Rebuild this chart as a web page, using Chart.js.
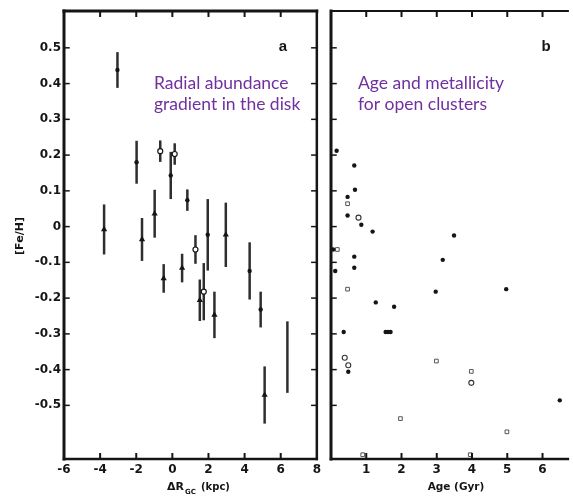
<!DOCTYPE html>
<html>
<head>
<meta charset="utf-8">
<script src="https://cdn.jsdelivr.net/npm/chart.js@4.4.1/dist/chart.umd.min.js"></script>
<style>
  html, body { margin: 0; padding: 0; background: #fff; }
  #wrap { position: relative; width: 573px; height: 497px; overflow: hidden; }
  #chartA { position: absolute; left: 0; top: 0; }
  #chartB { position: absolute; left: 325px; top: 0; }
</style>
</head>
<body>
<div id="wrap">
  <canvas id="chartA" width="325" height="497"></canvas>
  <canvas id="chartB" width="248" height="497"></canvas>
</div>
<script>
// panel a: [Fe/H] vs galactocentric distance offset
const dRgc   = [-3.04, -1.98, -0.67, 0.13, -0.09, 0.83, -3.78, -1.68, -0.98, 1.28, 1.96, 2.96, -0.48, 0.54, 1.52, 1.74, 2.33, 4.28, 4.89, 5.11, 6.37];
const feA    = [0.438, 0.18, 0.211, 0.203, 0.143, 0.074, -0.008, -0.036, 0.036, -0.064, -0.023, -0.023, -0.145, -0.116, -0.206, -0.182, -0.247, -0.124, -0.232, -0.471, -0.365];
const feAErr = [0.05, 0.06, 0.03, 0.03, 0.066, 0.03, 0.07, 0.06, 0.067, 0.04, 0.1, 0.09, 0.04, 0.04, 0.058, 0.08, 0.065, 0.08, 0.05, 0.08, 0.1];
// c = filled circle, o = open circle, t = triangle, n = bar only
const markA  = ['c', 'c', 'o', 'o', 'c', 'c', 't', 't', 't', 'o', 'c', 't', 't', 't', 't', 'o', 't', 'c', 'c', 't', 'n'];

// panel b: [Fe/H] vs age for open clusters
const ageFilled = [0.16, 0.66, 0.68, 0.47, 0.47, 0.86, 1.18, 3.49, 0.06, 0.66, 0.12, 0.66, 3.17, 2.97, 4.97, 1.27, 1.79, 0.36, 1.55, 1.62, 1.69, 0.49, 6.49];
const feFilled  = [0.212, 0.171, 0.103, 0.083, 0.031, 0.005, -0.014, -0.025, -0.064, -0.084, -0.124, -0.115, -0.093, -0.182, -0.175, -0.212, -0.224, -0.295, -0.295, -0.295, -0.295, -0.406, -0.486];
const ageSquare = [0.47, 0.18, 0.47, 2.99, 3.98, 1.97, 4.99, 0.9, 3.95];
const feSquare  = [0.064, -0.064, -0.175, -0.376, -0.405, -0.537, -0.574, -0.638, -0.638];
const ageOpen   = [0.78, 0.39, 0.49, 3.98];
const feOpen    = [0.025, -0.367, -0.388, -0.437];

const yTicks   = [0.5, 0.4, 0.3, 0.2, 0.1, 0, -0.1, -0.2, -0.3, -0.4, -0.5];
const xTicksA  = [-6, -4, -2, 0, 2, 4, 6, 8];
const xTicksB  = [1, 2, 3, 4, 5, 6];

const INK = '#151515';
const PURPLE = '#7030a0';
const tickFont = { family: 'DejaVu Sans', weight: 'bold', size: 12 };

function pts(xs, ys) {
  return xs.map((v, i) => ({ x: v, y: ys[i] }));
}

// axis frame with inward tick marks
function framePlugin(sides, xMarks) {
  return {
    id: 'frame',
    afterDraw(chart) {
      const { ctx, chartArea: { left, right, top, bottom }, scales: { x, y } } = chart;
      ctx.save();
      ctx.strokeStyle = INK;
      ctx.lineCap = 'square';
      const line = (x1, y1, x2, y2, w) => {
        ctx.lineWidth = w;
        ctx.beginPath();
        ctx.moveTo(x1, y1);
        ctx.lineTo(x2, y2);
        ctx.stroke();
      };
      if (sides.left) line(left, top, left, bottom, sides.left);
      if (sides.top) line(left, top, right, top, sides.top);
      if (sides.right) line(right, top, right, bottom, sides.right);
      if (sides.bottom) line(left, bottom, right, bottom, sides.bottom);
      yTicks.forEach((v) => {
        const py = y.getPixelForValue(v);
        if (sides.left) line(left, py, left + 5, py, 1.5);
        if (sides.right) line(right, py, right - 5, py, 1.5);
      });
      xMarks.forEach((v) => {
        const px = x.getPixelForValue(v);
        if (sides.top) line(px, top, px, top + 5, 2);
        if (sides.bottom) line(px, bottom, px, bottom - 5, 2);
      });
      ctx.restore();
    },
  };
}

// vertical error bars for panel a
const errorBars = {
  id: 'errorBars',
  beforeDatasetsDraw(chart) {
    const { ctx, scales: { x, y } } = chart;
    ctx.save();
    ctx.strokeStyle = '#2e2e2e';
    ctx.lineWidth = 2.5;
    dRgc.forEach((v, i) => {
      const px = x.getPixelForValue(v);
      ctx.beginPath();
      ctx.moveTo(px, y.getPixelForValue(feA[i] + feAErr[i]));
      ctx.lineTo(px, y.getPixelForValue(feA[i] - feAErr[i]));
      ctx.stroke();
    });
    ctx.restore();
  },
};

function labelsPlugin(draw) {
  return { id: 'labels', afterDraw(chart) { chart.ctx.save(); draw(chart.ctx); chart.ctx.restore(); } };
}

const annotA = labelsPlugin((ctx) => {
  ctx.fillStyle = INK;
  ctx.font = 'bold 15px "Liberation Sans"';
  ctx.textAlign = 'center';
  ctx.textBaseline = 'middle';
  ctx.fillText('a', 283, 47);

  ctx.fillStyle = PURPLE;
  ctx.font = '17.5px Lato';
  ctx.textAlign = 'left';
  ctx.fillText('Radial abundance', 154, 83);
  ctx.fillText('gradient in the disk', 154, 104);

  // axis titles
  ctx.fillStyle = INK;
  ctx.font = 'bold 11px "DejaVu Sans"';
  ctx.save();
  ctx.translate(20, 236);
  ctx.rotate(-Math.PI / 2);
  ctx.textAlign = 'center';
  ctx.fillText('[Fe/H]', 0, 0);
  ctx.restore();

  ctx.textAlign = 'left';
  ctx.fillText('\u0394R', 167, 487);
  const w = ctx.measureText('\u0394R').width;
  ctx.font = 'bold 7px "DejaVu Sans"';
  ctx.fillText('GC', 167 + w + 1, 492);
  ctx.font = 'bold 10px "DejaVu Sans"';
  ctx.fillText('(kpc)', 201, 487);
});

const annotB = labelsPlugin((ctx) => {
  ctx.fillStyle = INK;
  ctx.font = 'bold 15px "Liberation Sans"';
  ctx.textAlign = 'center';
  ctx.textBaseline = 'middle';
  ctx.fillText('b', 546 - 325, 47);

  ctx.fillStyle = PURPLE;
  ctx.font = '17.5px Lato';
  ctx.textAlign = 'left';
  ctx.fillText('Age and metallicity', 358 - 325, 83);
  ctx.fillText('for open clusters', 358 - 325, 104);

  ctx.fillStyle = INK;
  ctx.font = 'bold 10.5px "DejaVu Sans"';
  ctx.textAlign = 'center';
  ctx.fillText('Age (Gyr)', 456 - 325, 487);
});

const yScale = (show) => ({
  type: 'linear',
  display: show,
  min: -0.65,
  max: 0.603,
  afterBuildTicks: (s) => { s.ticks = yTicks.map((v) => ({ value: v })); },
  afterFit: (s) => { s.width = show ? 64 : 0; },
  grid: { display: false, drawTicks: false },
  border: { display: false },
  ticks: {
    color: INK,
    font: tickFont,
    padding: 3,
    callback: (v) => (v === 0 ? '0' : v.toFixed(1)),
  },
});

const xScale = (min, max, tickVals) => ({
  type: 'linear',
  min,
  max,
  afterBuildTicks: (s) => { s.ticks = tickVals.map((v) => ({ value: v })); },
  afterFit: (s) => { s.height = 38; },
  grid: { display: false, drawTicks: false },
  border: { display: false },
  ticks: { color: INK, font: tickFont, padding: 4, maxRotation: 0, autoSkip: false },
});

const baseOptions = {
  animation: false,
  responsive: false,
  plugins: { legend: { display: false }, tooltip: { enabled: false } },
};

new Chart(document.getElementById('chartA'), {
  type: 'scatter',
  data: {
    datasets: [{
      data: pts(dRgc, feA),
      pointStyle: markA.map((m) => (m === 't' ? 'triangle' : 'circle')),
      pointRadius: markA.map((m) => ({ c: 2.2, o: 2.5, t: 3.6, n: 0 }[m])),
      backgroundColor: markA.map((m) => (m === 'o' ? '#fff' : INK)),
      borderColor: INK,
      borderWidth: markA.map((m) => (m === 'o' ? 1.2 : 0)),
    }],
  },
  options: {
    ...baseOptions,
    layout: { padding: { left: 0, right: 8, top: 11, bottom: 0 } },
    scales: { x: xScale(-6, 8, xTicksA), y: yScale(true) },
  },
  plugins: [errorBars, framePlugin({ left: 3, top: 3, right: 2.5, bottom: 2.5 }, [-4, -2, 0, 2, 4, 6]), annotA],
});

new Chart(document.getElementById('chartB'), {
  type: 'scatter',
  data: {
    datasets: [
      {
        data: pts(ageFilled, feFilled),
        pointStyle: 'circle',
        pointRadius: 2.2,
        backgroundColor: INK,
        borderWidth: 0,
      },
      {
        data: pts(ageSquare, feSquare),
        pointStyle: 'rect',
        pointRadius: 2.6,
        backgroundColor: '#fff',
        borderColor: '#555',
        borderWidth: 1,
      },
      {
        data: pts(ageOpen, feOpen),
        pointStyle: 'circle',
        pointRadius: 2.5,
        backgroundColor: '#fff',
        borderColor: '#333',
        borderWidth: 1.1,
      },
    ],
  },
  options: {
    ...baseOptions,
    layout: { padding: { left: 6, right: 0, top: 11, bottom: 0 } },
    scales: { x: xScale(0, 6.72, xTicksB), y: yScale(false) },
  },
  plugins: [framePlugin({ left: 3, top: 2, bottom: 2.5 }, xTicksB), annotB],
});
</script>
</body>
</html>
